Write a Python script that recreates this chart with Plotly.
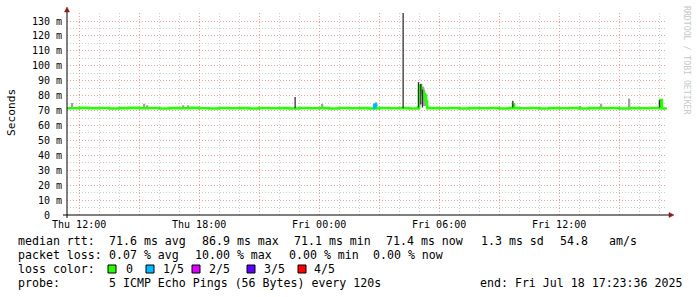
import plotly.graph_objects as go

# ---------------- data ----------------
x_start = "2025-07-17 11:23:36"
x_end = "2025-07-18 17:23:36"

median_time = [
    "2025-07-17 11:23", "2025-07-17 12:00", "2025-07-17 12:30", "2025-07-17 13:00", "2025-07-17 13:30",
    "2025-07-17 14:00", "2025-07-17 14:30", "2025-07-17 15:00", "2025-07-17 15:30", "2025-07-17 16:00",
    "2025-07-17 16:30", "2025-07-17 17:00", "2025-07-17 17:30", "2025-07-17 18:00", "2025-07-17 18:30",
    "2025-07-17 19:00", "2025-07-17 19:30", "2025-07-17 20:00", "2025-07-17 20:30", "2025-07-17 21:00",
    "2025-07-17 21:30", "2025-07-17 22:00", "2025-07-17 22:30", "2025-07-17 23:00", "2025-07-17 23:30",
    "2025-07-18 00:00", "2025-07-18 00:30", "2025-07-18 01:00", "2025-07-18 01:30", "2025-07-18 02:00",
    "2025-07-18 02:30", "2025-07-18 03:00", "2025-07-18 03:30", "2025-07-18 04:00", "2025-07-18 04:30",
    "2025-07-18 04:57", "2025-07-18 05:00", "2025-07-18 05:03", "2025-07-18 05:06", "2025-07-18 05:09",
    "2025-07-18 05:12", "2025-07-18 05:15", "2025-07-18 05:18", "2025-07-18 05:21", "2025-07-18 05:24",
    "2025-07-18 06:00", "2025-07-18 06:30", "2025-07-18 07:00", "2025-07-18 07:30", "2025-07-18 08:00",
    "2025-07-18 08:30", "2025-07-18 09:00", "2025-07-18 09:30", "2025-07-18 09:42", "2025-07-18 09:45",
    "2025-07-18 10:00", "2025-07-18 10:30", "2025-07-18 11:00", "2025-07-18 11:30", "2025-07-18 12:00",
    "2025-07-18 12:30", "2025-07-18 13:00", "2025-07-18 13:30", "2025-07-18 14:00", "2025-07-18 14:30",
    "2025-07-18 15:00", "2025-07-18 15:30", "2025-07-18 16:00", "2025-07-18 16:30", "2025-07-18 17:00",
    "2025-07-18 17:03", "2025-07-18 17:08", "2025-07-18 17:23",
]
median_ms = [
    71.5, 71.8, 71.5, 71.7, 71.4,
    71.6, 71.8, 71.5, 71.7, 71.4,
    71.6, 71.5, 71.8, 71.5, 71.4,
    71.7, 71.5, 71.6, 71.4, 71.7,
    71.5, 71.6, 71.4, 71.7, 71.5,
    71.6, 71.4, 71.7, 71.5, 71.6,
    71.4, 71.7, 71.5, 71.6, 71.4,
    72.0, 84.0, 86.9, 84.0, 82.0,
    81.0, 79.0, 80.0, 76.0, 71.6,
    71.5, 71.7, 71.4, 71.6, 71.5,
    71.7, 71.4, 71.6, 74.0, 71.6,
    71.5, 71.7, 71.4, 71.6, 71.5,
    71.7, 71.4, 71.6, 71.5, 71.7,
    71.4, 71.6, 71.5, 71.7, 71.5,
    77.0, 71.4, 71.4,
]

# median segment with 1/5 packet loss
loss1_time = ["2025-07-18 02:42", "2025-07-18 02:45", "2025-07-18 02:48", "2025-07-18 02:51"]
loss1_ms = [71.6, 73.5, 74.0, 72.0]

# smoke (spread of the individual pings)
smoke_light_time = ["2025-07-17 11:39", "2025-07-17 15:15", "2025-07-17 15:24", "2025-07-17 17:12",
                    "2025-07-17 17:27", "2025-07-18 00:09", "2025-07-18 02:51", "2025-07-18 05:12",
                    "2025-07-18 05:15", "2025-07-18 05:18", "2025-07-18 10:36", "2025-07-18 13:03",
                    "2025-07-18 14:06", "2025-07-18 15:30"]
smoke_light_lo = [71.5, 71.5, 71.5, 71.5, 71.5, 71.5, 71.5, 74.0, 73.0, 73.0, 71.5, 71.5, 71.5, 71.5]
smoke_light_hi = [75.0, 74.5, 73.5, 73.5, 73.5, 74.5, 75.5, 86.0, 84.0, 82.0, 72.5, 73.0, 74.5, 78.0]

smoke_dark_time = ["2025-07-17 22:48", "2025-07-18 04:12", "2025-07-18 04:58", "2025-07-18 05:05",
                   "2025-07-18 05:10", "2025-07-18 09:41", "2025-07-18 17:01"]
smoke_dark_lo = [71.5, 71.5, 72.0, 74.0, 72.0, 72.0, 72.0]
smoke_dark_hi = [79.0, 140.0, 89.0, 88.0, 84.0, 76.5, 77.0]

y_ticks = [0, 10, 20, 30, 40, 50, 60, 70, 80, 90, 100, 110, 120, 130]
y_labels = ["0\u00a0\u00a0"] + [f"{v}\u00a0m" for v in y_ticks[1:]]

x_ticks = ["2025-07-17 12:00", "2025-07-17 15:00", "2025-07-17 18:00", "2025-07-17 21:00",
           "2025-07-18 00:00", "2025-07-18 03:00", "2025-07-18 06:00", "2025-07-18 09:00",
           "2025-07-18 12:00", "2025-07-18 15:00"]
x_labels = ["Thu 12:00", "", "Thu 18:00", "", "Fri 00:00", "", "Fri 06:00", "", "Fri 12:00", ""]

loss_names = ["0", "1/5", "2/5", "3/5", "4/5"]
loss_colors = ["#26ff00", "#00b8ff", "#dd00ff", "#5e00ff", "#ff0000"]

# ---------------- layout helpers ----------------
W, H = 697, 297
L, R, T, B = 67, 30, 13, 82
PW, PH = W - L - R, H - T - B
Y_TOP = PH / 14.923 * 10  # ~135.4 m

MONO = "DejaVu Sans Mono"


def px(xp):
    return (xp - L) / PW


def py(yp):
    return (H - B - yp) / PH


def segs(ts, lo, hi):
    xs, ys = [], []
    for t, a, b in zip(ts, lo, hi):
        xs += [t, t, None]
        ys += [a, b, None]
    return xs, ys


fig = go.Figure()

sx, sy = segs(smoke_light_time, smoke_light_lo, smoke_light_hi)
fig.add_trace(go.Scatter(x=sx, y=sy, mode="lines", line=dict(color="#a0a0a0", width=2.2),
                         hoverinfo="skip", showlegend=False))

fig.add_trace(go.Scatter(x=median_time, y=median_ms, mode="lines",
                         line=dict(color=loss_colors[0], width=2.6, shape="hv"),
                         showlegend=False))
fig.add_trace(go.Scatter(x=loss1_time, y=loss1_ms, mode="lines",
                         line=dict(color=loss_colors[1], width=2.4, shape="hv"),
                         showlegend=False))

sx, sy = segs(smoke_dark_time, smoke_dark_lo, smoke_dark_hi)
fig.add_trace(go.Scatter(x=sx, y=sy, mode="lines", line=dict(color="#333333", width=1.3),
                         hoverinfo="skip", showlegend=False))

major_grid = "#e8a0a0"
minor_grid = "#cccccc"

fig.update_layout(
    width=W, height=H,
    margin=dict(l=L, r=R, t=T, b=B, autoexpand=False),
    paper_bgcolor="white", plot_bgcolor="white",
    showlegend=False,
    font=dict(family=MONO, color="#000000", size=10),
    xaxis=dict(
        type="date", range=[x_start, x_end],
        tickmode="array", tickvals=x_ticks, ticktext=x_labels,
        showgrid=True, gridcolor=major_grid, griddash="1px,2px", gridwidth=1,
        minor=dict(dtick=3600000, tick0="2025-07-17 12:00", showgrid=True,
                   gridcolor=minor_grid, griddash="1px,2px", gridwidth=1),
        showline=False, zeroline=False, ticks="", ticklabelstandoff=2,
        tickfont=dict(family=MONO, size=10, color="#000"),
        automargin=False,
    ),
    yaxis=dict(
        range=[0, Y_TOP],
        tickmode="array", tickvals=y_ticks, ticktext=y_labels,
        showgrid=True, gridcolor=major_grid, griddash="1px,2px", gridwidth=1,
        minor=dict(dtick=5, tick0=0, showgrid=True,
                   gridcolor=minor_grid, griddash="1px,2px", gridwidth=1),
        showline=False, zeroline=False, ticks="", ticklabelstandoff=4,
        tickfont=dict(family=MONO, size=10, color="#000"),
        automargin=False,
    ),
)

shapes = []
# axis lines
shapes.append(dict(type="line", xref="paper", yref="paper", x0=px(63), x1=px(670), y0=0, y1=0,
                   line=dict(color="#000", width=1)))
shapes.append(dict(type="line", xref="paper", yref="paper", x0=0, x1=0, y0=py(218), y1=py(10),
                   line=dict(color="#000", width=1)))
# arrows
shapes.append(dict(type="path", xref="paper", yref="paper",
                   path=f"M {px(64.5)} {py(12)} L {px(69.5)} {py(12)} L {px(67)} {py(7)} Z",
                   fillcolor="#8b1a1a", line=dict(color="#8b1a1a", width=0.5)))
shapes.append(dict(type="path", xref="paper", yref="paper",
                   path=f"M {px(669)} {py(212.5)} L {px(669)} {py(217.5)} L {px(674)} {py(215)} Z",
                   fillcolor="#8b1a1a", line=dict(color="#8b1a1a", width=0.5)))

annotations = []


def txt(xp, yp, s, size=11.6, color="#000", xanchor="left", angle=0):
    annotations.append(dict(xref="paper", yref="paper", x=px(xp), y=py(yp),
                            text=s.replace(" ", "\u00a0"), showarrow=False,
                            xanchor=xanchor, yanchor="middle", textangle=angle,
                            font=dict(family=MONO, size=size, color=color)))


# y axis title
annotations.append(dict(xref="paper", yref="paper", x=px(11), y=py(113), text="Seconds",
                        showarrow=False, textangle=-90, xanchor="center", yanchor="middle",
                        font=dict(family=MONO, size=11.2, color="#000")))
# watermark
annotations.append(dict(xref="paper", yref="paper", x=px(687), y=py(60),
                        text="RRDTOOL / TOBI OETIKER".replace(" ", "\u00a0"),
                        showarrow=False, textangle=90, xanchor="center", yanchor="middle",
                        font=dict(family=MONO, size=8.2, color="#c8c8c8")))

# legend
y1, y2, y3, y4 = 241, 255, 269, 283
for xp, s in [(16, "median rtt:"), (107, "71.6 ms avg"), (200, "86.9 ms max"), (292, "71.1 ms min"),
              (384, "71.4 ms now"), (479, "1.3 ms sd"), (558, "54.8"), (607, "am/s")]:
    txt(xp, y1, s)
for xp, s in [(16, "packet loss:"), (107, "0.07 % avg"), (193, "10.00 % max"), (287, "0.00 % min"),
              (371, "0.00 % now")]:
    txt(xp, y2, s)
txt(16, y3, "loss color:")
box_x = [108, 146, 192, 247, 298]
lab_x = [124, 161, 207, 262, 312]
for bx, lx, name, col in zip(box_x, lab_x, loss_names, loss_colors):
    shapes.append(dict(type="rect", xref="paper", yref="paper",
                       x0=px(bx), x1=px(bx + 8), y0=py(y3 + 4), y1=py(y3 - 4),
                       fillcolor=col, line=dict(color="#000", width=1)))
    txt(lx, y3, name)
txt(16, y4, "probe:")
txt(107, y4, "5 ICMP Echo Pings (56 Bytes) every 120s")
txt(478, y4, "end: Fri Jul 18 17:23:36 2025")

fig.update_layout(shapes=shapes, annotations=annotations)

fig.write_html("out.html")
